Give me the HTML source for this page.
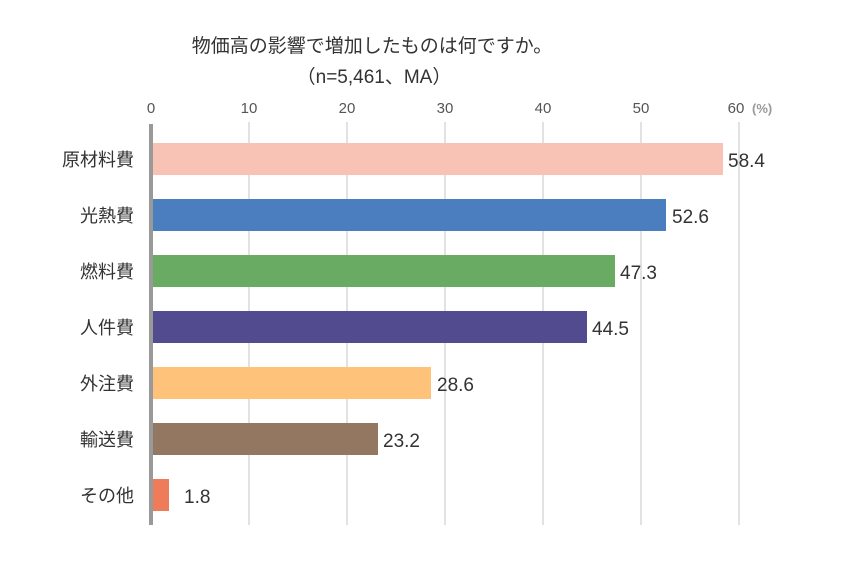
<!DOCTYPE html>
<html><head><meta charset="utf-8"><style>
body{margin:0;background:#fff;}
svg text{font-family:"Liberation Sans","Noto Sans CJK JP",sans-serif;}
</style></head><body>
<svg width="850" height="564" xmlns="http://www.w3.org/2000/svg">
<rect width="850" height="564" fill="#fff"/>
<text x="372" y="52" font-size="19" fill="#333" text-anchor="middle">物価高の影響で増加したものは何ですか。</text>
<text x="374" y="83" font-size="19" fill="#333" text-anchor="middle">（n=5,461、MA）</text>
<g stroke="#d9d9d9" stroke-width="1.5">
<line x1="249" y1="122" x2="249" y2="525"/><line x1="347" y1="122" x2="347" y2="525"/>
<line x1="445" y1="122" x2="445" y2="525"/><line x1="543" y1="122" x2="543" y2="525"/>
<line x1="641" y1="122" x2="641" y2="525"/><line x1="739" y1="122" x2="739" y2="525"/>
</g>
<g font-size="15" fill="#555" text-anchor="middle">
<text x="151" y="113">0</text><text x="249" y="113">10</text><text x="347" y="113">20</text>
<text x="445" y="113">30</text><text x="543" y="113">40</text><text x="641" y="113">50</text>
<text x="736" y="113">60</text></g>
<text x="752" y="113" font-size="13" fill="#999" font-weight="bold">(%)</text>
<g>
<rect x="151" y="143" width="572" height="32" fill="#F8C3B5"/>
<rect x="151" y="199" width="515" height="32" fill="#4A7EBF"/>
<rect x="151" y="255" width="464" height="32" fill="#6AAB63"/>
<rect x="151" y="311" width="436" height="32" fill="#534B8F"/>
<rect x="151" y="367" width="280" height="32" fill="#FFC27A"/>
<rect x="151" y="423" width="227" height="32" fill="#937760"/>
<rect x="151" y="479" width="18" height="32" fill="#EE7C5B"/>
</g>
<line x1="151" y1="124" x2="151" y2="525" stroke="#999" stroke-width="4"/>
<g font-size="18" fill="#333" text-anchor="end">
<text x="134" y="166">原材料費</text><text x="134" y="222">光熱費</text><text x="134" y="278">燃料費</text>
<text x="134" y="334">人件費</text><text x="134" y="390">外注費</text><text x="134" y="446">輸送費</text>
<text x="134" y="502">その他</text></g>
<g font-size="19" fill="#333">
<text x="728" y="167">58.4</text><text x="672" y="223">52.6</text><text x="620" y="279">47.3</text>
<text x="592" y="335">44.5</text><text x="437" y="391">28.6</text><text x="383" y="447">23.2</text>
<text x="184" y="503">1.8</text></g>
</svg>
</body></html>
